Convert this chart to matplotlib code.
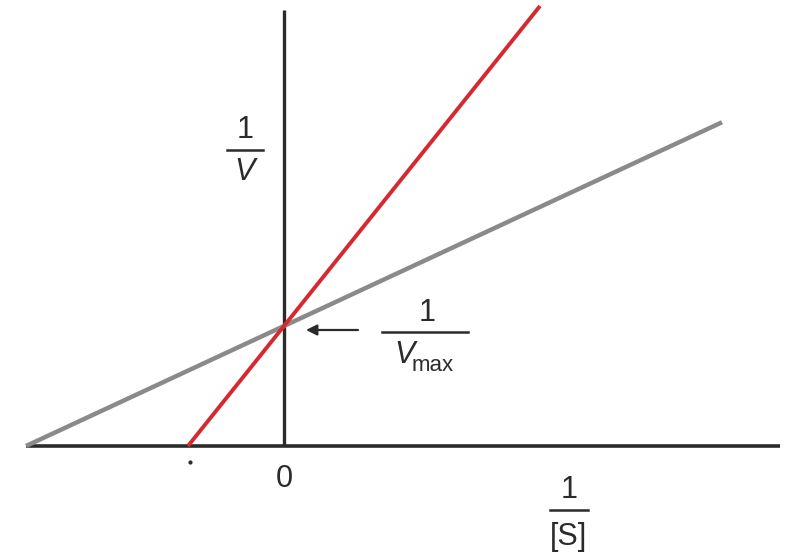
import matplotlib
matplotlib.use('Agg')
import matplotlib.pyplot as plt
import numpy as np

# Lineweaver-Burk plot: uninhibited vs competitive inhibitor (same 1/Vmax)
inv_vmax = 1.2                       # shared y-intercept
x_intercepts = [-2.58, -0.96]        # -1/Km for each line
x_ends = [4.38, 2.56]                # where each line stops on the right
line_colors = ['#8a8a8a', '#d42a2f']
line_widths = [3.2, 2.8]

DARK = '#2b2b2b'
FONT = 'Liberation Sans'

fig = plt.figure(figsize=(8, 5.55), dpi=100)
ax = fig.add_axes([0, 0, 1, 1])
ax.set_xlim(-2.84, 5.16)
ax.set_ylim(-1.09, 4.46)
ax.axis('off')

# axes drawn by hand through the origin
ax.plot([-2.58, 4.96], [0, 0], color=DARK, lw=2.6, solid_capstyle='butt', zorder=2)
ax.plot([0, 0], [0, 4.36], color=DARK, lw=2.4, solid_capstyle='butt', zorder=2)

# the two lines, from x-intercept up to their right ends
for x0, x1, col, lw in zip(x_intercepts, x_ends, line_colors, line_widths):
    slope = inv_vmax / (-x0)
    xs = np.array([x0, x1])
    ys = inv_vmax + slope * xs
    ax.plot(xs, ys, color=col, lw=lw, solid_capstyle='butt', zorder=3)

# small tick under the red intercept
ax.plot([x_intercepts[1] + 0.02], [-0.16], marker='o', ms=2, color=DARK)


def fraction(x, y, num, den, width, size=22, den_style='normal', den_off=0.22):
    ax.text(x, y + 0.2, num, ha='center', va='center', fontsize=size,
            family=FONT, color=DARK)
    ax.plot([x - width / 2, x + width / 2], [y, y], color=DARK, lw=1.8)
    ax.text(x, y - den_off, den, ha='center', va='center', fontsize=size,
            family=FONT, style=den_style, color=DARK)


fraction(-0.39, 2.96, '1', 'V', 0.36, den_style='italic')
fraction(2.85, -0.64, '1', '[S]', 0.38, den_off=0.27)

# 1/Vmax label with arrow
ax.text(1.43, 1.33, '1', ha='center', va='center', fontsize=22,
        family=FONT, color=DARK)
ax.plot([0.98, 1.84], [1.14, 1.14], color=DARK, lw=1.8)
ax.text(1.21, 0.91, 'V', ha='center', va='center', fontsize=22,
        family=FONT, style='italic', color=DARK)
ax.text(1.49, 0.80, 'max', ha='center', va='center', fontsize=16,
        family=FONT, color=DARK)
ax.annotate('', xy=(0.22, 1.16), xytext=(0.74, 1.16),
            arrowprops=dict(arrowstyle='-|>', color=DARK, lw=1.6,
                            mutation_scale=16, shrinkA=0, shrinkB=0))

ax.text(0.0, -0.33, '0', ha='center', va='center', fontsize=22,
        family=FONT, color=DARK)

fig.savefig('out.png', dpi=100, facecolor='white')
